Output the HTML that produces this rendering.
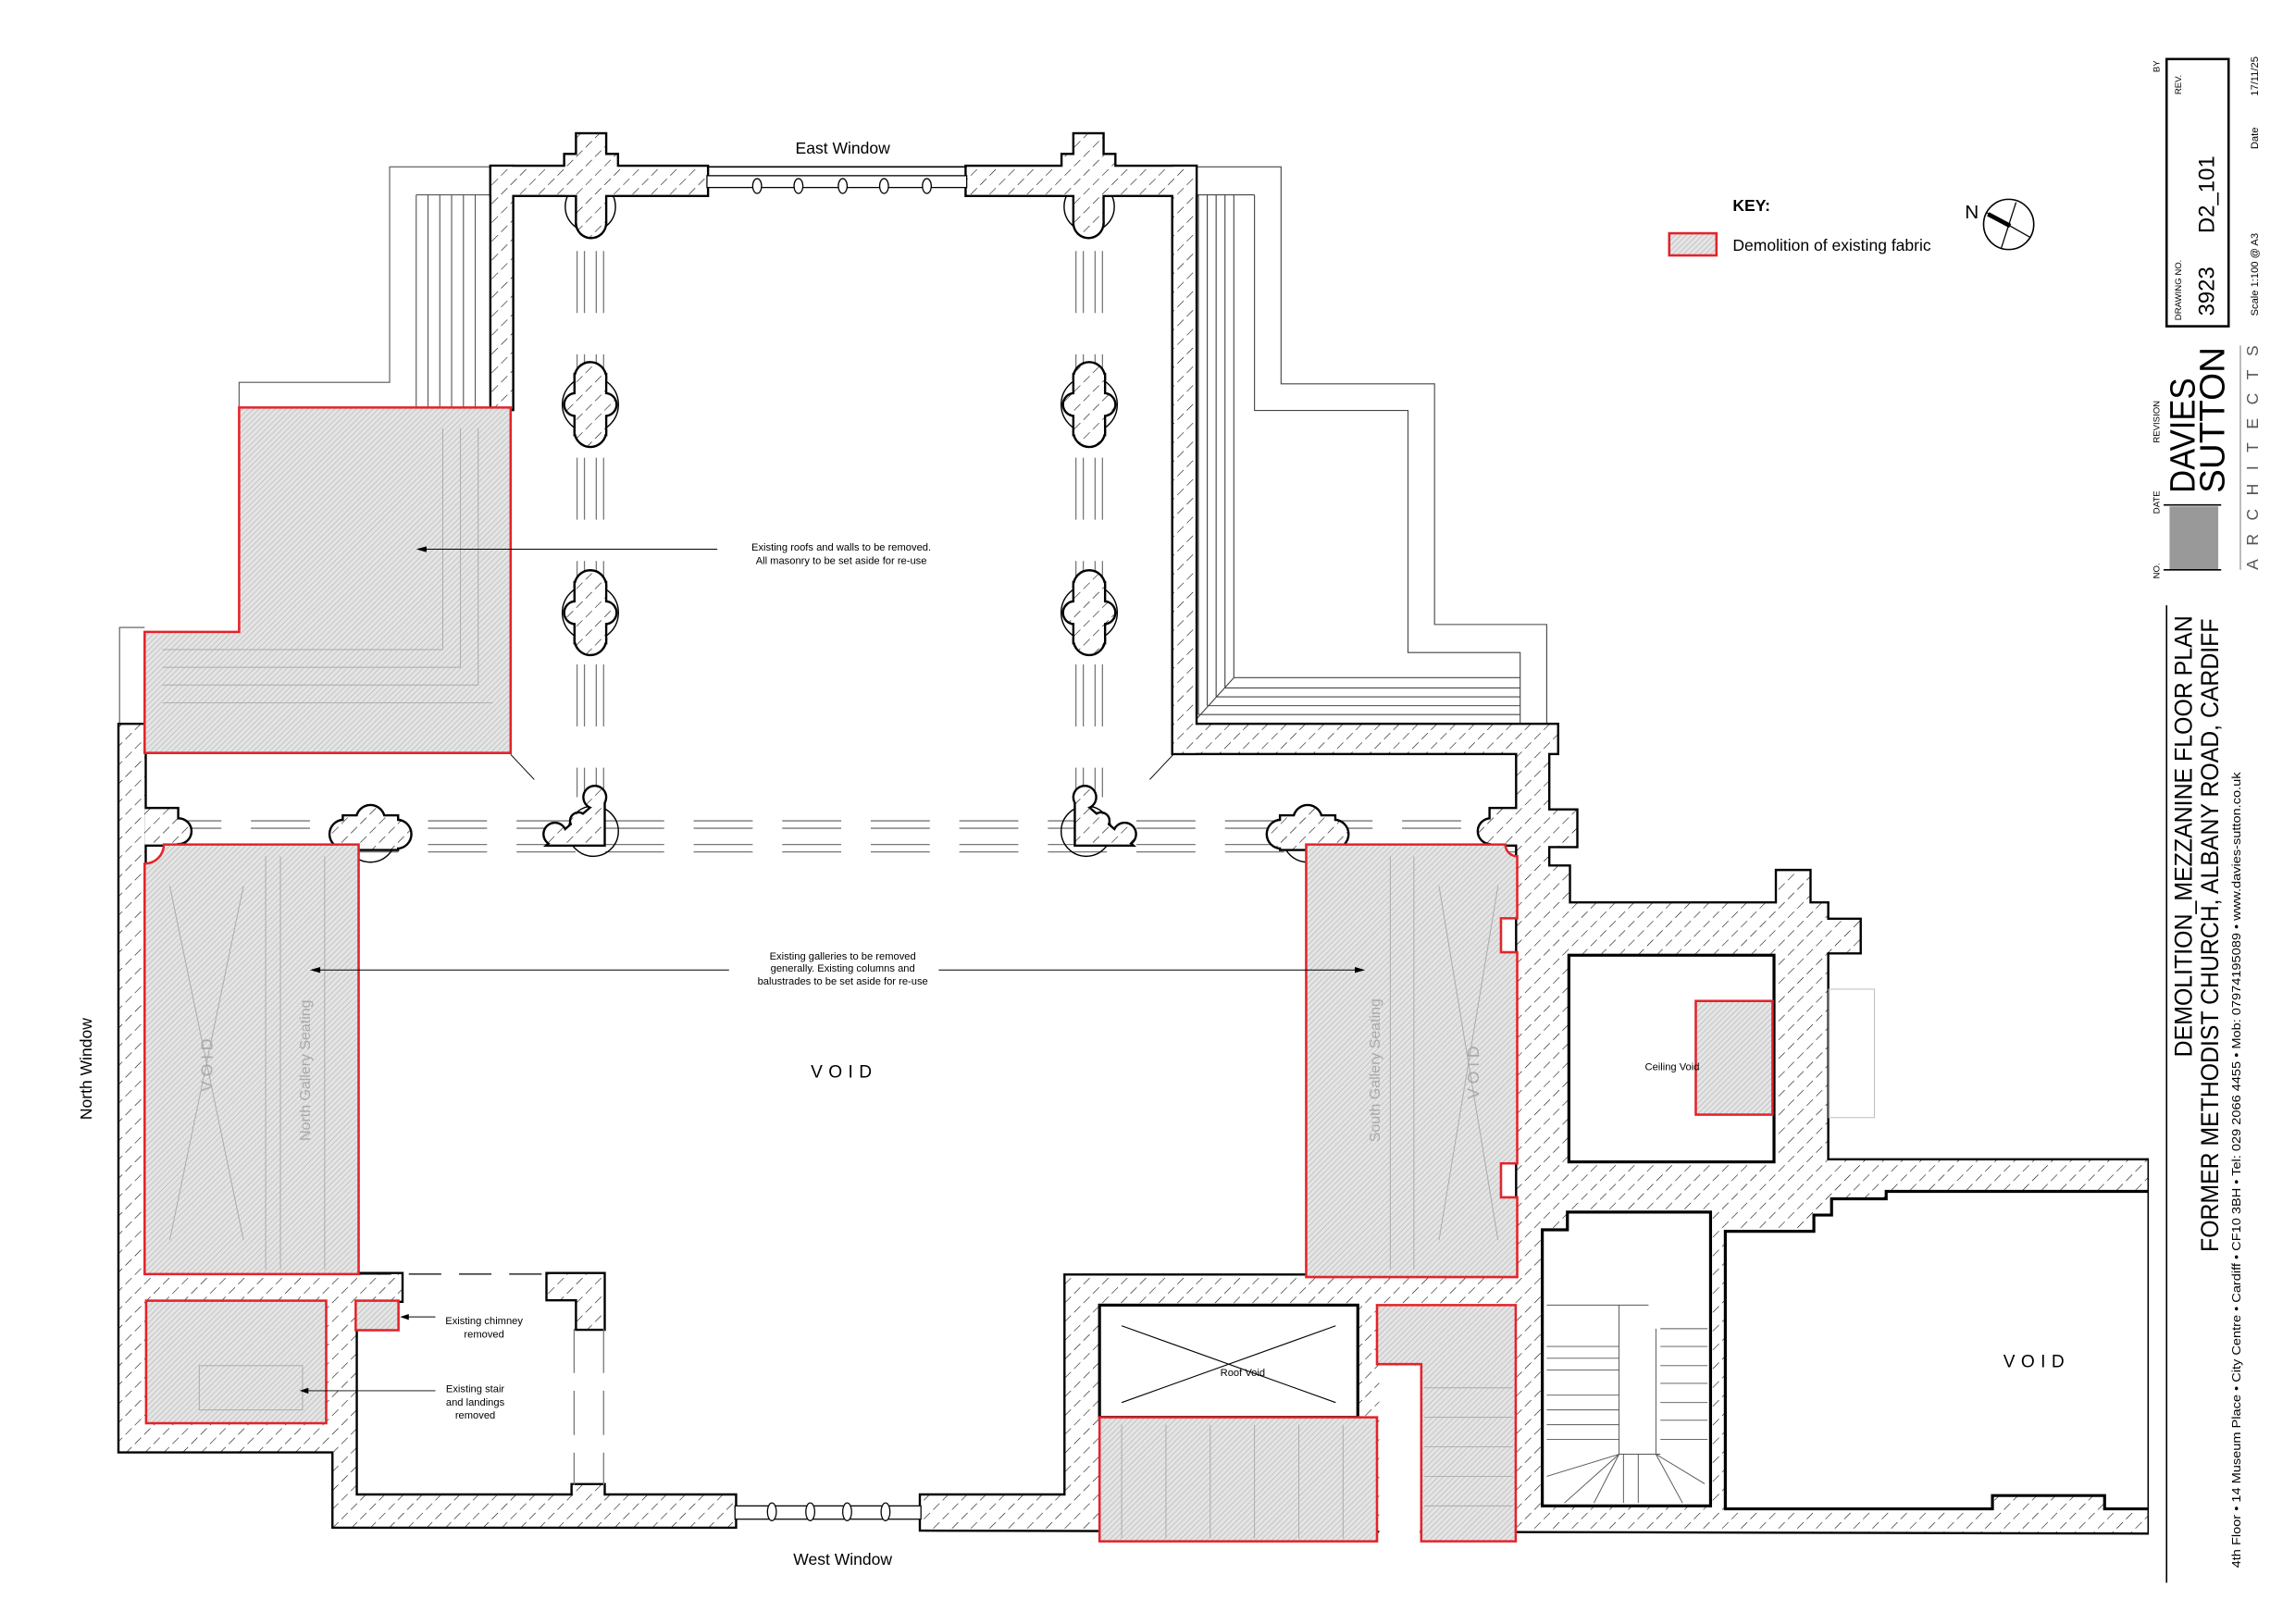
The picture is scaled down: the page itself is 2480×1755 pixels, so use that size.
<!DOCTYPE html>
<html><head><meta charset="utf-8"><style>
html,body{margin:0;padding:0;background:#fff;}
svg{display:block;}
text{font-family:"Liberation Sans",Arial,sans-serif;}
</style></head><body>
<svg width="2480" height="1755" viewBox="0 0 1555 1100" preserveAspectRatio="none" xmlns="http://www.w3.org/2000/svg">
<defs>
<pattern id="wh" width="9" height="9" patternUnits="userSpaceOnUse" patternTransform="rotate(45)">
<rect width="9" height="9" fill="#fff"/>
<line x1="0" y1="0" x2="0" y2="9" stroke="#000" stroke-width="0.7" stroke-dasharray="6 3"/>
</pattern>
<pattern id="rh" width="2.6" height="2.6" patternUnits="userSpaceOnUse" patternTransform="rotate(45)">
<rect width="2.6" height="2.6" fill="#e4e4e4"/>
<line x1="0" y1="0" x2="0" y2="2.6" stroke="#9a9a9a" stroke-width="0.5"/>
</pattern>
</defs>
<rect width="1555" height="1100" fill="#fff"/>

<g fill="none" stroke="#555" stroke-width="0.7">
<polyline points="333,113 264,113 264,259 162,259 162,276"/>
<polyline points="98,425 81,425 81,491"/>
<line x1="282" y1="132" x2="282" y2="276"/><line x1="290" y1="132" x2="290" y2="276"/>
<line x1="298" y1="132" x2="298" y2="276"/><line x1="306" y1="132" x2="306" y2="276"/>
<line x1="314" y1="132" x2="314" y2="276"/><line x1="322" y1="132" x2="322" y2="276"/>
<line x1="282" y1="132" x2="333" y2="132"/>
</g>
<g fill="none" stroke="#444" stroke-width="0.7">
<polyline points="802,113 868,113 868,260 972,260 972,423 1048,423 1048,491"/>
<polyline points="850,132 850,278 954,278 954,442 1030,442 1030,491"/>
<polyline points="812,132 812,484"/><polyline points="818,132 818,478"/><polyline points="824,132 824,472"/>
<polyline points="830,132 830,466"/><polyline points="836,132 836,459"/>
<line x1="836" y1="459" x2="808" y2="490"/>
<line x1="836" y1="459" x2="1030" y2="459"/><line x1="830" y1="466" x2="1030" y2="466"/>
<line x1="824" y1="472" x2="1030" y2="472"/><line x1="818" y1="478" x2="1030" y2="478"/>
<line x1="812" y1="484" x2="1030" y2="484"/>
<line x1="810" y1="132" x2="850" y2="132"/>
</g>

<g stroke="#777" stroke-width="0.8" fill="none" stroke-dasharray="42 28" stroke-dashoffset="-10">
<line x1="391" y1="160" x2="391" y2="540"/><line x1="396" y1="160" x2="396" y2="540"/>
<line x1="404" y1="160" x2="404" y2="540"/><line x1="409" y1="160" x2="409" y2="540"/>
<line x1="729" y1="160" x2="729" y2="540"/><line x1="734" y1="160" x2="734" y2="540"/>
<line x1="742" y1="160" x2="742" y2="540"/><line x1="747" y1="160" x2="747" y2="540"/>
</g>
<g stroke="#777" stroke-width="0.8" fill="none" stroke-dasharray="40 20">
<line x1="110" y1="556" x2="1030" y2="556"/><line x1="110" y1="561" x2="1030" y2="561"/>
<line x1="110" y1="572" x2="1030" y2="572"/><line x1="110" y1="577" x2="1030" y2="577"/>
</g>

<g fill="none" stroke="#000" stroke-width="0.9">
<circle cx="400" cy="274" r="19"/><circle cx="400" cy="415" r="19"/>
<circle cx="738" cy="274" r="19"/><circle cx="738" cy="415" r="19"/>
<circle cx="400" cy="140" r="17"/><circle cx="738" cy="140" r="17"/>
<circle cx="402" cy="563" r="17"/><circle cx="736" cy="563" r="17"/>
<circle cx="251" cy="567" r="17"/><circle cx="886" cy="567" r="17"/>
</g>

<g id="walls">
<g stroke="#000" stroke-width="3" fill="#000" stroke-linejoin="miter">
 <rect x="333" y="113" width="146" height="19"/><rect x="655" y="113" width="155" height="19"/>
 <rect x="333" y="113" width="14" height="164"/><rect x="795" y="113" width="15" height="397"/>
 <rect x="795" y="491" width="260" height="19"/>
 <rect x="391" y="91" width="19" height="60"/><rect x="383" y="105" width="35" height="27"/><circle cx="400.5" cy="151" r="9.5"/>
 <rect x="728" y="91" width="19" height="60"/><rect x="720" y="105" width="35" height="27"/><circle cx="737.5" cy="151" r="9.5"/>
 <rect x="390" y="254" width="20" height="40"/><circle cx="400" cy="256" r="10"/><circle cx="400" cy="292" r="10"/><circle cx="390" cy="274" r="7"/><circle cx="410" cy="274" r="7"/>
 <rect x="390" y="395" width="20" height="40"/><circle cx="400" cy="397" r="10"/><circle cx="400" cy="433" r="10"/><circle cx="390" cy="415" r="7"/><circle cx="410" cy="415" r="7"/>
 <rect x="728" y="254" width="20" height="40"/><circle cx="738" cy="256" r="10"/><circle cx="738" cy="292" r="10"/><circle cx="728" cy="274" r="7"/><circle cx="748" cy="274" r="7"/>
 <rect x="728" y="395" width="20" height="40"/><circle cx="738" cy="397" r="10"/><circle cx="738" cy="433" r="10"/><circle cx="728" cy="415" r="7"/><circle cx="748" cy="415" r="7"/>
 <polygon points="409,540 409,572 372,572"/><circle cx="403" cy="540" r="7"/><circle cx="376" cy="565" r="7"/><circle cx="392" cy="556" r="5"/>
 <polygon points="729,540 729,572 766,572"/><circle cx="735" cy="540" r="7"/><circle cx="762" cy="565" r="7"/><circle cx="746" cy="556" r="5"/>
 <rect x="233" y="553" width="36" height="22"/><circle cx="251" cy="555" r="9"/><circle cx="233" cy="565" r="9"/><circle cx="269" cy="565" r="9"/>
 <rect x="868" y="553" width="36" height="22"/><circle cx="886" cy="555" r="9"/><circle cx="868" cy="565" r="9"/><circle cx="904" cy="565" r="9"/>
 <rect x="98" y="548" width="22" height="24"/><circle cx="121" cy="563" r="8"/>
 <rect x="1010" y="548" width="20" height="24"/><circle cx="1010" cy="563" r="8"/>
 <polygon points="81,491 98,491 98,863 272,863 272,881 241,881 241,1013 388,1013 388,1006 409,1006 409,1013 498,1013 498,1034 226,1034 226,983 81,983"/>
 <polygon points="371,863 409,863 409,900 391,900 391,880 371,880"/>
 <polygon points="1049,549 1068,549 1068,573 1049,573 1049,587 1063,587 1063,612 1204,612 1204,590 1226,590 1226,612 1238,612 1238,623 1260,623 1260,645 1238,645 1238,786 1455,786 1455,1038 624,1036 624,1013 722,1013 722,864 1028,864 1028,505 1049,505"/>
</g>
<g fill="url(#wh)" stroke="none">
 <rect x="333" y="113" width="146" height="19"/><rect x="655" y="113" width="155" height="19"/>
 <rect x="333" y="113" width="14" height="164"/><rect x="795" y="113" width="15" height="397"/>
 <rect x="795" y="491" width="260" height="19"/>
 <rect x="391" y="91" width="19" height="60"/><rect x="383" y="105" width="35" height="27"/><circle cx="400.5" cy="151" r="9.5"/>
 <rect x="728" y="91" width="19" height="60"/><rect x="720" y="105" width="35" height="27"/><circle cx="737.5" cy="151" r="9.5"/>
 <rect x="390" y="254" width="20" height="40"/><circle cx="400" cy="256" r="10"/><circle cx="400" cy="292" r="10"/><circle cx="390" cy="274" r="7"/><circle cx="410" cy="274" r="7"/>
 <rect x="390" y="395" width="20" height="40"/><circle cx="400" cy="397" r="10"/><circle cx="400" cy="433" r="10"/><circle cx="390" cy="415" r="7"/><circle cx="410" cy="415" r="7"/>
 <rect x="728" y="254" width="20" height="40"/><circle cx="738" cy="256" r="10"/><circle cx="738" cy="292" r="10"/><circle cx="728" cy="274" r="7"/><circle cx="748" cy="274" r="7"/>
 <rect x="728" y="395" width="20" height="40"/><circle cx="738" cy="397" r="10"/><circle cx="738" cy="433" r="10"/><circle cx="728" cy="415" r="7"/><circle cx="748" cy="415" r="7"/>
 <polygon points="409,540 409,572 372,572"/><circle cx="403" cy="540" r="7"/><circle cx="376" cy="565" r="7"/><circle cx="392" cy="556" r="5"/>
 <polygon points="729,540 729,572 766,572"/><circle cx="735" cy="540" r="7"/><circle cx="762" cy="565" r="7"/><circle cx="746" cy="556" r="5"/>
 <rect x="233" y="553" width="36" height="22"/><circle cx="251" cy="555" r="9"/><circle cx="233" cy="565" r="9"/><circle cx="269" cy="565" r="9"/>
 <rect x="868" y="553" width="36" height="22"/><circle cx="886" cy="555" r="9"/><circle cx="868" cy="565" r="9"/><circle cx="904" cy="565" r="9"/>
 <rect x="98" y="548" width="22" height="24"/><circle cx="121" cy="563" r="8"/>
 <rect x="1010" y="548" width="20" height="24"/><circle cx="1010" cy="563" r="8"/>
 <polygon points="81,491 98,491 98,863 272,863 272,881 241,881 241,1013 388,1013 388,1006 409,1006 409,1013 498,1013 498,1034 226,1034 226,983 81,983"/>
 <polygon points="371,863 409,863 409,900 391,900 391,880 371,880"/>
 <polygon points="1049,549 1068,549 1068,573 1049,573 1049,587 1063,587 1063,612 1204,612 1204,590 1226,590 1226,612 1238,612 1238,623 1260,623 1260,645 1238,645 1238,786 1455,786 1455,1038 624,1036 624,1013 722,1013 722,864 1028,864 1028,505 1049,505"/>
</g>
</g>

<g stroke="#000" stroke-width="0.8" fill="#fff">
<rect x="479" y="119" width="176" height="8"/>
<ellipse cx="513" cy="126" rx="3" ry="5"/><ellipse cx="541" cy="126" rx="3" ry="5"/><ellipse cx="571" cy="126" rx="3" ry="5"/><ellipse cx="599" cy="126" rx="3" ry="5"/><ellipse cx="628" cy="126" rx="3" ry="5"/>
<rect x="498" y="1020" width="126" height="9"/>
<ellipse cx="523" cy="1024" rx="3" ry="6"/><ellipse cx="549" cy="1024" rx="3" ry="6"/><ellipse cx="574" cy="1024" rx="3" ry="6"/><ellipse cx="600" cy="1024" rx="3" ry="6"/>
</g>
<line x1="479" y1="113" x2="655" y2="113" stroke="#000" stroke-width="1"/>

<g stroke="#000" stroke-width="2" fill="#fff">
<rect x="745" y="884" width="175" height="76"/>
<rect x="1063" y="647" width="139" height="140"/>
<polygon points="1045,833 1062,833 1062,821 1159,821 1159,1020 1045,1020"/>
<path d="M1455,807 L1278,807 L1278,812 L1241,812 L1241,823 L1229,823 L1229,834 L1169,834 L1169,1022 L1350,1022 L1350,1013 L1426,1013 L1426,1022 L1455,1022" />
</g>
<rect x="1456" y="780" width="10" height="270" fill="#fff"/>
<rect x="1239" y="670" width="31" height="87" fill="none" stroke="#bbb" stroke-width="0.6"/>
<g stroke="#000" stroke-width="0.7">
<line x1="760" y1="898" x2="905" y2="950"/><line x1="760" y1="950" x2="905" y2="898"/>
</g>
<g stroke="#555" stroke-width="0.6" fill="none">
<line x1="1048" y1="884" x2="1117" y2="884"/><line x1="1097" y1="884" x2="1097" y2="985"/><line x1="1122" y1="900" x2="1122" y2="985"/>
<line x1="1097" y1="985" x2="1125" y2="985"/>
<line x1="1048" y1="912" x2="1097" y2="912"/><line x1="1048" y1="920" x2="1097" y2="920"/><line x1="1048" y1="928" x2="1097" y2="928"/>
<line x1="1048" y1="945" x2="1097" y2="945"/><line x1="1048" y1="955" x2="1097" y2="955"/><line x1="1048" y1="965" x2="1097" y2="965"/><line x1="1048" y1="975" x2="1097" y2="975"/>
<line x1="1125" y1="900" x2="1157" y2="900"/><line x1="1125" y1="912" x2="1157" y2="912"/><line x1="1125" y1="925" x2="1157" y2="925"/>
<line x1="1125" y1="937" x2="1157" y2="937"/><line x1="1125" y1="950" x2="1157" y2="950"/><line x1="1125" y1="962" x2="1157" y2="962"/><line x1="1125" y1="975" x2="1157" y2="975"/>
<line x1="1097" y1="985" x2="1060" y2="1018"/><line x1="1097" y1="985" x2="1080" y2="1018"/><line x1="1100" y1="985" x2="1100" y2="1018"/>
<line x1="1110" y1="985" x2="1110" y2="1018"/><line x1="1122" y1="985" x2="1140" y2="1018"/><line x1="1122" y1="985" x2="1155" y2="1005"/>
<line x1="1097" y1="985" x2="1048" y2="1000"/>
</g>

<g stroke="#777" stroke-width="0.8" stroke-dasharray="30 12"><line x1="389" y1="900" x2="389" y2="1006"/><line x1="409" y1="900" x2="409" y2="1006"/></g>
<g stroke="#000" stroke-width="0.8" stroke-dasharray="22 12"><line x1="243" y1="863" x2="371" y2="863"/></g>

<g fill="url(#rh)" stroke="#e3232b" stroke-width="1.6">
<polygon points="162,276 346,276 346,510 98,510 98,428 162,428"/>
<path d="M98,585 A13,13 0 0 0 111,572 L243,572 L243,863 L98,863 Z"/>
<path d="M885,572 L1020,572 A8,8 0 0 0 1028,580 L1028,622 L1017,622 L1017,645 L1028,645 L1028,788 L1017,788 L1017,811 L1028,811 L1028,865 L885,865 Z"/>
<rect x="99" y="881" width="122" height="83"/>
<rect x="241" y="881" width="29" height="20"/>
<rect x="1149" y="678" width="52" height="77"/>
<rect x="745" y="960" width="188" height="84"/>
<polygon points="933,884 1027,884 1027,1044 963,1044 963,924 933,924"/>
</g>
<rect x="934.5" y="925" width="27.5" height="118" fill="#fff"/>
<g stroke="#aaa" stroke-width="0.6" fill="none">
<polyline points="110,440 300,440 300,290"/><polyline points="110,452 312,452 312,290"/><polyline points="110,464 324,464 324,290"/><polyline points="110,476 334,476"/>
<line x1="180" y1="580" x2="180" y2="860"/><line x1="190" y1="580" x2="190" y2="860"/><line x1="220" y1="580" x2="220" y2="860"/>
<line x1="115" y1="600" x2="165" y2="840"/><line x1="165" y1="600" x2="115" y2="840"/>
<line x1="942" y1="580" x2="942" y2="860"/><line x1="958" y1="580" x2="958" y2="860"/>
<line x1="975" y1="600" x2="1015" y2="840"/><line x1="1015" y1="600" x2="975" y2="840"/>
<line x1="760" y1="965" x2="760" y2="1042"/><line x1="790" y1="965" x2="790" y2="1042"/><line x1="820" y1="965" x2="820" y2="1042"/><line x1="850" y1="965" x2="850" y2="1042"/><line x1="880" y1="965" x2="880" y2="1042"/><line x1="910" y1="965" x2="910" y2="1042"/>
<line x1="965" y1="940" x2="1025" y2="940"/><line x1="965" y1="960" x2="1025" y2="960"/><line x1="965" y1="980" x2="1025" y2="980"/><line x1="965" y1="1000" x2="1025" y2="1000"/><line x1="965" y1="1020" x2="1025" y2="1020"/>
<rect x="135" y="925" width="70" height="30"/>
</g>
<g fill="#aaa" font-size="10">
<text transform="translate(210,725) rotate(-90)" text-anchor="middle">North Gallery Seating</text>
<text transform="translate(935,725) rotate(-90)" text-anchor="middle">South Gallery Seating</text>
<text transform="translate(144,720) rotate(-90)" text-anchor="middle" font-size="11" letter-spacing="3">VOID</text>
<text transform="translate(1002,725) rotate(-90)" text-anchor="middle" font-size="11" letter-spacing="3">VOID</text>
</g>

<g stroke="#000" stroke-width="0.6" fill="none">
<line x1="346" y1="511" x2="362" y2="528"/><line x1="795" y1="511" x2="779" y2="528"/>
<line x1="486" y1="372" x2="285" y2="372"/>
<line x1="494" y1="657" x2="213" y2="657"/>
<line x1="636" y1="657" x2="922" y2="657"/>
<line x1="295" y1="892" x2="273" y2="892"/>
<line x1="295" y1="942" x2="206" y2="942"/>
</g>
<g fill="#000">
<polygon points="282,372 289,370 289,374"/>
<polygon points="210,657 217,655 217,659"/>
<polygon points="925,657 918,655 918,659"/>
<polygon points="271,892 277,890 277,894"/>
<polygon points="203,942 209,940 209,944"/>
</g>

<g fill="#000">
<text x="571" y="104" font-size="11" text-anchor="middle">East Window</text>
<text x="571" y="1060" font-size="11" text-anchor="middle">West Window</text>
<text transform="translate(62,724) rotate(-90)" font-size="11" text-anchor="middle">North Window</text>
<text x="572" y="730" font-size="12" text-anchor="middle" letter-spacing="4">VOID</text>
<text x="1380" y="926" font-size="12" text-anchor="middle" letter-spacing="4">VOID</text>
<g font-size="7" text-anchor="middle">
<text x="570" y="373">Existing roofs and walls to be removed.</text>
<text x="570" y="382">All masonry to be set aside for re-use</text>
<text x="571" y="650">Existing galleries to be removed</text>
<text x="571" y="658">generally. Existing columns and</text>
<text x="571" y="667">balustrades to be set aside for re-use</text>
<text x="328" y="897">Existing chimney</text>
<text x="328" y="906">removed</text>
<text x="322" y="943">Existing stair</text>
<text x="322" y="952">and landings</text>
<text x="322" y="961">removed</text>
<text x="842" y="932">Roof Void</text>
<text x="1133" y="725">Ceiling Void</text>
</g>
<text x="1174" y="143" font-size="11" font-weight="bold">KEY:</text>
<text x="1174" y="170" font-size="11">Demolition of existing fabric</text>
</g>
<rect x="1131" y="158" width="32" height="15" fill="url(#rh)" stroke="#e3232b" stroke-width="1.6"/>

<circle cx="1361" cy="152" r="17" fill="none" stroke="#000" stroke-width="1"/>
<line x1="1346" y1="144" x2="1376" y2="161" stroke="#000" stroke-width="0.8"/>
<line x1="1366" y1="137" x2="1356" y2="168" stroke="#000" stroke-width="0.8"/>
<line x1="1347" y1="145" x2="1362" y2="153" stroke="#000" stroke-width="3"/>
<text x="1336" y="148" font-size="13" text-anchor="middle">N</text>

<line x1="1468" y1="410" x2="1468" y2="1072" stroke="#000" stroke-width="1"/>
<rect x="1468" y="40" width="42" height="181" fill="none" stroke="#000" stroke-width="1.6"/>
<g fill="#000">
<text transform="translate(1463,49) rotate(-90)" font-size="6">BY</text>
<text transform="translate(1478,64) rotate(-90)" font-size="6">REV.</text>
<text transform="translate(1478,217) rotate(-90)" font-size="6">DRAWING NO.</text>
<text transform="translate(1500,214) rotate(-90)" font-size="15">3923</text>
<text transform="translate(1500,158) rotate(-90)" font-size="15">D2_101</text>
<text transform="translate(1530,65) rotate(-90)" font-size="7">17/11/25</text>
<text transform="translate(1530,101) rotate(-90)" font-size="7">Date</text>
<text transform="translate(1530,214) rotate(-90)" font-size="7">Scale  1:100 @ A3</text>
<text transform="translate(1463,392) rotate(-90)" font-size="6">NO.</text>
<text transform="translate(1463,348) rotate(-90)" font-size="6">DATE</text>
<text transform="translate(1463,300) rotate(-90)" font-size="6">REVISION</text>
</g>
<rect x="1470" y="343" width="33" height="43" fill="#999"/>
<line x1="1466" y1="342" x2="1505" y2="342" stroke="#000" stroke-width="1"/>
<line x1="1466" y1="386" x2="1505" y2="386" stroke="#000" stroke-width="1"/>
<line x1="1518" y1="234" x2="1518" y2="386" stroke="#555" stroke-width="0.5"/>
<g fill="#000">
<text transform="translate(1487,334) rotate(-90)" font-size="24" textLength="78" lengthAdjust="spacingAndGlyphs">DAVIES</text>
<text transform="translate(1507,334) rotate(-90)" font-size="24" textLength="99" lengthAdjust="spacingAndGlyphs">SUTTON</text>
<text transform="translate(1530,386) rotate(-90)" font-size="11" fill="#555" textLength="152" lengthAdjust="spacing">ARCHITECTS</text>
<text transform="translate(1485,716) rotate(-90)" font-size="17" textLength="299" lengthAdjust="spacingAndGlyphs">DEMOLITION_MEZZANINE FLOOR PLAN</text>
<text transform="translate(1503,848) rotate(-90)" font-size="17" textLength="429" lengthAdjust="spacingAndGlyphs">FORMER METHODIST CHURCH, ALBANY ROAD, CARDIFF</text>
<text transform="translate(1518,1062) rotate(-90)" font-size="8" textLength="539" lengthAdjust="spacingAndGlyphs">4th Floor • 14 Museum Place • City Centre • Cardiff • CF10 3BH • Tel: 029 2066 4455 • Mob: 07974195089 • www.davies-sutton.co.uk</text>
</g>
</svg>
</body></html>
